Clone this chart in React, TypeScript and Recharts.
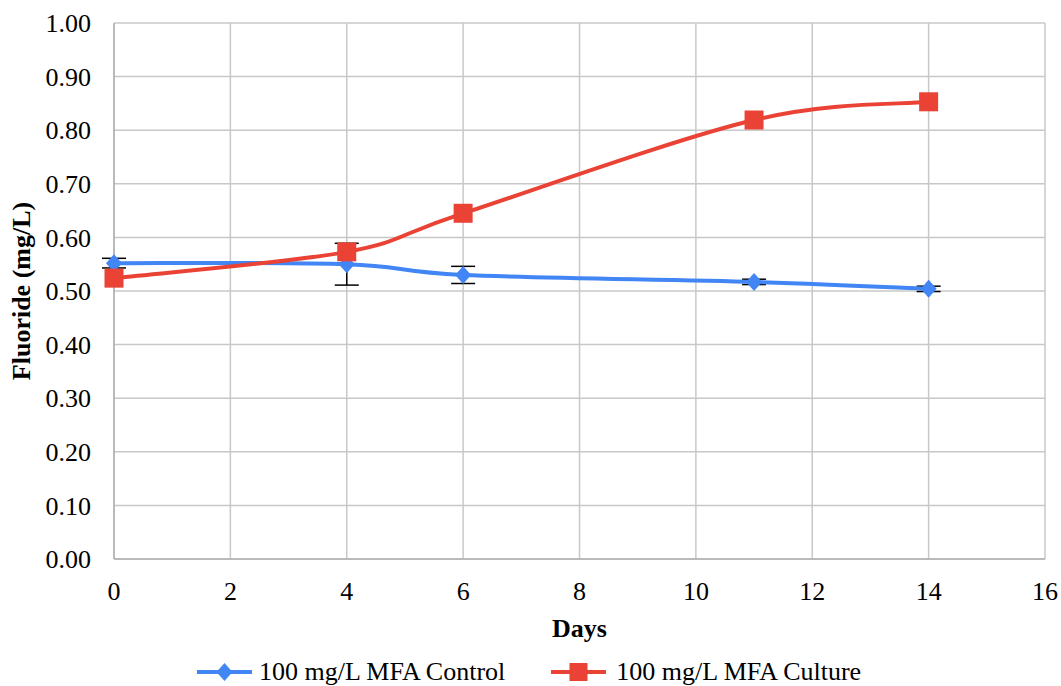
import React from "react";
import {
  CartesianGrid,
  ErrorBar,
  Label,
  Line,
  LineChart,
  XAxis,
  YAxis,
} from "recharts";

const days = [0, 4, 6, 11, 14];
const controlValues = [0.552, 0.55, 0.53, 0.517, 0.504];
const controlErrors = [0.009, 0.039, 0.016, 0.005, 0.005];
const cultureValues = [0.524, 0.573, 0.645, 0.819, 0.853];
const xTicks = [0, 2, 4, 6, 8, 10, 12, 14, 16];
const yTicks = [0, 0.1, 0.2, 0.3, 0.4, 0.5, 0.6, 0.7, 0.8, 0.9, 1.0];

const BLUE = "#4285f4";
const RED = "#ea4335";
const FONT = "'Liberation Serif', 'Times New Roman', Times, serif";
const FS = 26;

const chartData = days.map((d, i) => ({
  day: d,
  control: controlValues[i],
  controlErr: controlErrors[i],
  culture: cultureValues[i],
}));

// excel-like smoothed line (cardinal spline, tension 1/6)
const excelCurve = (context: any) => {
  let pts: number[][] = [];
  return {
    areaStart() {},
    areaEnd() {},
    lineStart() {
      pts = [];
    },
    point(x: number, y: number) {
      pts.push([+x, +y]);
    },
    lineEnd() {
      if (!pts.length) return;
      context.moveTo(pts[0][0], pts[0][1]);
      for (let i = 0; i < pts.length - 1; i++) {
        const p0 = pts[i - 1] || pts[i];
        const p1 = pts[i];
        const p2 = pts[i + 1];
        const p3 = pts[i + 2] || pts[i + 1];
        context.bezierCurveTo(
          p1[0] + (p2[0] - p0[0]) / 6,
          p1[1] + (p2[1] - p0[1]) / 6,
          p2[0] - (p3[0] - p1[0]) / 6,
          p2[1] - (p3[1] - p1[1]) / 6,
          p2[0],
          p2[1]
        );
      }
    },
  };
};

const Diamond = (props: any) => {
  const { cx, cy } = props;
  if (cx == null || cy == null) return null;
  return (
    <polygon
      points={`${cx},${cy - 9} ${cx + 8},${cy} ${cx},${cy + 9} ${cx - 8},${cy}`}
      fill={BLUE}
    />
  );
};

const Square = (props: any) => {
  const { cx, cy } = props;
  if (cx == null || cy == null) return null;
  const s = 9.5;
  return <rect x={cx - s} y={cy - s} width={s * 2} height={s * 2} fill={RED} />;
};

const LegendItem = ({
  color,
  marker,
  text,
  gap,
}: {
  color: string;
  marker: "diamond" | "square";
  text: string;
  gap: number;
}) => (
  <div style={{ display: "flex", alignItems: "center", marginRight: 46 }}>
    <svg width={55} height={20} style={{ marginRight: gap }}>
      <line x1={0} y1={10} x2={55} y2={10} stroke={color} strokeWidth={4} />
      {marker === "diamond" ? (
        <polygon points="27.5,1 35.5,10 27.5,19 19.5,10" fill={color} />
      ) : (
        <rect x={18.5} y={1} width={18} height={18} fill={color} />
      )}
    </svg>
    <span>{text}</span>
  </div>
);

const App: React.FC = () => {
  return (
    <div
      style={{
        position: "relative",
        width: 1061,
        height: 686,
        fontFamily: FONT,
        background: "#fff",
      }}
    >
      <style>{"body{margin:0}"}</style>
      <LineChart
        width={1061}
        height={650}
        data={chartData}
        margin={{ top: 23, right: 16, left: 0, bottom: 0 }}
      >
        <CartesianGrid stroke="#c8c8c8" strokeWidth={1.5} />
        <XAxis
          dataKey="day"
          type="number"
          domain={[0, 16]}
          ticks={xTicks}
          height={91}
          tickLine={false}
          tickSize={0}
          tickMargin={23}
          axisLine={{ stroke: "#b0b0b0", strokeWidth: 1.5 }}
          tick={{ fill: "#000", fontSize: FS, fontFamily: FONT }}
        >
          <Label
            content={({ viewBox }: any) => (
              <text
                x={viewBox.x + viewBox.width / 2}
                y={637}
                textAnchor="middle"
                fontFamily={FONT}
                fontSize={FS}
                fontWeight="bold"
                fill="#000"
              >
                Days
              </text>
            )}
          />
        </XAxis>
        <YAxis
          type="number"
          domain={[0, 1]}
          ticks={yTicks}
          width={114}
          tickLine={false}
          tickSize={0}
          tickMargin={23}
          interval={0}
          axisLine={{ stroke: "#b0b0b0", strokeWidth: 1.5 }}
          tickFormatter={(v: number) => v.toFixed(2)}
          tick={{ fill: "#000", fontSize: FS, fontFamily: FONT }}
        >
          <Label
            content={({ viewBox }: any) => {
              const cy = viewBox.y + viewBox.height / 2;
              return (
                <text
                  x={30}
                  y={cy}
                  transform={`rotate(-90, 30, ${cy})`}
                  textAnchor="middle"
                  fontFamily={FONT}
                  fontSize={FS}
                  fontWeight="bold"
                  fill="#000"
                >
                  Fluoride (mg/L)
                </text>
              );
            }}
          />
        </YAxis>
        <Line
          type={excelCurve as any}
          dataKey="control"
          stroke={BLUE}
          strokeWidth={4}
          dot={<Diamond />}
          activeDot={false}
          isAnimationActive={false}
        >
          <ErrorBar dataKey="controlErr" width={12} stroke="#000" strokeWidth={1.5} />
        </Line>
        <Line
          type={excelCurve as any}
          dataKey="culture"
          stroke={RED}
          strokeWidth={4}
          dot={<Square />}
          activeDot={false}
          isAnimationActive={false}
        />
      </LineChart>
      <div
        style={{
          position: "absolute",
          top: 656,
          left: 197,
          display: "flex",
          fontSize: FS,
          lineHeight: "32px",
          color: "#000",
        }}
      >
        <LegendItem color={BLUE} marker="diamond" text="100 mg/L MFA Control" gap={7} />
        <LegendItem color={RED} marker="square" text="100 mg/L MFA Culture" gap={10} />
      </div>
    </div>
  );
};

export default App;
